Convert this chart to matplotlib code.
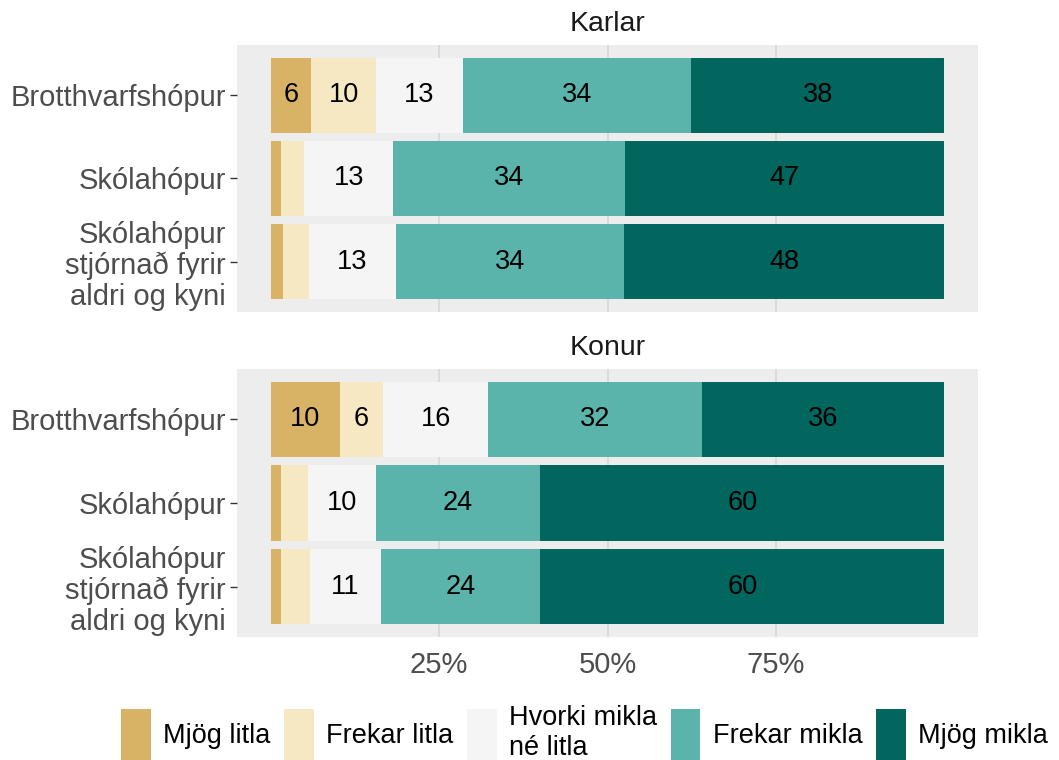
import matplotlib
matplotlib.use("Agg")
import matplotlib.pyplot as plt
from matplotlib.patches import Patch

plt.rcParams["font.family"] = ["Liberation Sans", "DejaVu Sans"]

groups = ["Brotthvarfshópur", "Skólahópur", "Skólahópur\nstjórnað fyrir\naldri og kyni"]
levels = ["Mjög litla", "Frekar litla", "Hvorki mikla\nné litla", "Frekar mikla", "Mjög mikla"]
colors = ["#D8B365", "#F6E8C3", "#F5F5F5", "#5AB4AC", "#01665E"]

# percent per level, one list per group
karlar = [
    [6.0, 9.7, 12.8, 33.9, 37.6],
    [1.6, 3.4, 13.2, 34.4, 47.4],
    [1.8, 3.9, 12.9, 33.8, 47.6],
]
konur = [
    [10.3, 6.4, 15.6, 31.7, 36.0],
    [1.5, 4.0, 10.1, 24.4, 60.0],
    [1.6, 4.2, 10.6, 23.6, 60.0],
]
panels = [("Karlar", karlar), ("Konur", konur)]

W, H = 1059, 760
fig = plt.figure(figsize=(W / 100, H / 100), dpi=100)

# panel boxes in pixels: left, top, right, bottom
boxes = [(237, 45, 978, 312), (237, 369, 978, 637)]

for i, ((title, data), (l, t, r, b)) in enumerate(zip(panels, boxes)):
    ax = fig.add_axes([l / W, 1 - b / H, (r - l) / W, (b - t) / H])
    ax.set_facecolor("#EDEDED")
    for s in ax.spines.values():
        s.set_visible(False)
    for x in [25, 50, 75]:
        ax.axvline(x, color="#D6D6D6", lw=1.1, zorder=0)
    for g, vals in enumerate(data):
        left = 0
        for k, v in enumerate(vals):
            ax.barh(g, v, left=left, height=0.9, color=colors[k], zorder=2)
            if v >= 5:
                ax.text(left + v / 2, g, f"{round(v)}", ha="center", va="center",
                        fontsize=19.5, color="black", zorder=3)
            left += v
    ax.set_xlim(-5, 105)
    ax.set_ylim(2.6, -0.6)
    ax.set_yticks(range(len(groups)))
    ax.set_yticklabels(groups, fontsize=21, color="#4D4D4D", ha="right",
                       linespacing=1.12)
    ax.tick_params(axis="y", length=5, width=1, color="#333333", pad=3)
    ax.set_xticks([25, 50, 75])
    if i == 1:
        ax.set_xticklabels(["25%", "50%", "75%"], fontsize=21, color="#4D4D4D")
        ax.tick_params(axis="x", length=0, pad=10)
    else:
        ax.tick_params(axis="x", length=0, labelbottom=False)
    ax.text(0.5, 1 + 21 / (b - t), title, transform=ax.transAxes,
            ha="center", va="center", fontsize=20.5, color="#1A1A1A")

handles = [Patch(facecolor=c, edgecolor="none") for c in colors]
fig.legend(handles, levels, loc="center", bbox_to_anchor=(0.552, 1 - 733 / H),
           ncol=5, frameon=False, fontsize=19.5, handlelength=1.1,
           handleheight=2.5, handletextpad=0.45, columnspacing=0.5,
           labelspacing=0.2)

fig.savefig("out.png", dpi=100)
